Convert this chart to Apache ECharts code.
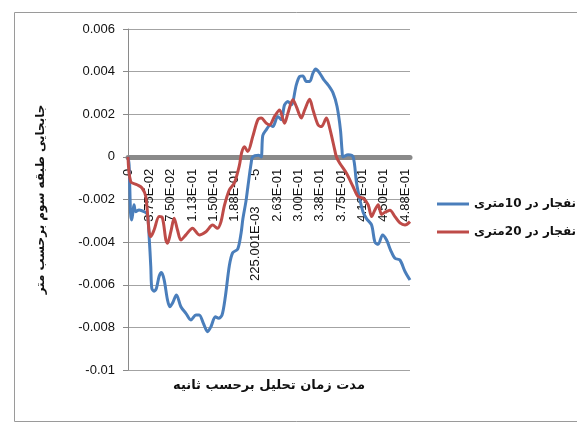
<!DOCTYPE html>
<html>
<head>
<meta charset="utf-8">
<script src="https://cdn.jsdelivr.net/npm/echarts@6/dist/echarts.min.js"></script>
<style>
html,body{margin:0;padding:0;background:#fff;}
#c{width:577px;height:424px;}
</style>
</head>
<body>
<div id="c"></div>
<script>
// ---- data ----
const seriesNames = ['انفجار در 10متری', 'انفجار در 20متری'];
const yAxisTitle = 'جابجایی طبقه سوم برحسب متر';
const xAxisTitle = 'مدت زمان تحلیل برحسب ثانیه';

const xTickLabels = ['0', '3.75E-02', '7.50E-02', '1.13E-01', '1.50E-01', '1.88E-01',
  '225.001E-03\u2003\u2003-5', '2.63E-01', '3.00E-01', '3.38E-01', '3.75E-01', '4.13E-01',
  '4.50E-01', '4.88E-01'];
const yTickLabels = ['-0.01', '-0.008', '-0.006', '-0.004', '-0.002', '0', '0.002', '0.004', '0.006'];

const blueT = [0, 0.0020, 0.0045, 0.0065, 0.0088, 0.0106, 0.0136, 0.0194, 0.0283, 0.0341,
  0.0371, 0.0401, 0.0419, 0.0459, 0.0500, 0.0548, 0.0588, 0.0636, 0.0694, 0.0736,
  0.0782, 0.0853, 0.0931, 0.1019, 0.1107, 0.1196, 0.1254, 0.1325, 0.1400, 0.1460,
  0.1537, 0.1595, 0.1655, 0.1713, 0.1784, 0.1842, 0.1930, 0.1990, 0.2022, 0.2075,
  0.2110, 0.2167, 0.2195, 0.2301, 0.2344, 0.2372, 0.2432, 0.2503, 0.2549, 0.2637,
  0.2697, 0.2755, 0.2814, 0.2874, 0.2962, 0.3020, 0.3078, 0.3138, 0.3197, 0.3255,
  0.3303, 0.3373, 0.3444, 0.3520, 0.3608, 0.3679, 0.3739, 0.3767, 0.3785, 0.3873,
  0.3962, 0.4021, 0.4080, 0.4138, 0.4198, 0.4287, 0.4345, 0.4403, 0.4480, 0.4551,
  0.4621, 0.4698, 0.4786, 0.4875, 0.4963];
const blueV = [0, -0.0004, -0.00264, -0.00296, -0.00257, -0.00225, -0.00257, -0.00249, -0.00257, -0.0027,
  -0.0037, -0.00515, -0.00617, -0.0063, -0.00617, -0.0056, -0.00543, -0.00577, -0.0067, -0.00703,
  -0.00687, -0.00648, -0.00703, -0.00734, -0.00765, -0.00742, -0.00742, -0.0078, -0.0082, -0.00797,
  -0.0075, -0.00757, -0.00742, -0.00656, -0.0051, -0.0045, -0.00433, -0.00358, -0.0029, -0.0021,
  -0.0014, -0.0003, 0, 0.00008, 0, 0.001, 0.00127, 0.0015, 0.00142, 0.0019,
  0.00174, 0.00244, 0.0026, 0.00244, 0.00338, 0.00377, 0.0038, 0.00354, 0.00354, 0.00393,
  0.00412, 0.00393, 0.00362, 0.00338, 0.003, 0.00236, 0.00127, 0.0003, 0, 0.0001,
  0, -0.0012, -0.002, -0.0026, -0.0029, -0.0032, -0.004, -0.0041, -0.00366, -0.0039,
  -0.00437, -0.00476, -0.00484, -0.00538, -0.00578];

const redT = [0, 0.0048, 0.0159, 0.0247, 0.0313, 0.0371, 0.0401, 0.0459, 0.0548, 0.0606,
  0.0666, 0.0694, 0.0754, 0.0812, 0.0871, 0.0931, 0.1019, 0.1136, 0.1254, 0.1372,
  0.1489, 0.1577, 0.1637, 0.1695, 0.1784, 0.1872, 0.1960, 0.2000, 0.2049, 0.2107,
  0.2195, 0.2284, 0.2344, 0.2432, 0.2490, 0.2579, 0.2667, 0.2755, 0.2814, 0.2903,
  0.2963, 0.3051, 0.3109, 0.3197, 0.3256, 0.3345, 0.3404, 0.3492, 0.3550, 0.3638,
  0.3668, 0.3727, 0.3845, 0.3962, 0.4050, 0.4138, 0.4227, 0.4287, 0.4345, 0.4403,
  0.4463, 0.4521, 0.4610, 0.4698, 0.4786, 0.4875, 0.4963];
const redV = [0, -0.00116, -0.00131, -0.00146, -0.00186, -0.0035, -0.00374, -0.00343, -0.0028, -0.00286,
  -0.0039, -0.00405, -0.00351, -0.00288, -0.00343, -0.0039, -0.00366, -0.00335, -0.00366, -0.00351,
  -0.0032, -0.00335, -0.00304, -0.0023, -0.00155, -0.00122, -0.0004, 0.0002, 0.00048, 0.00025,
  0.00095, 0.00174, 0.00182, 0.00158, 0.0015, 0.0019, 0.0022, 0.00158, 0.00205, 0.00268,
  0.00236, 0.00182, 0.0022, 0.0027, 0.0022, 0.0015, 0.00142, 0.00182, 0.00135, 0.00033,
  0, -0.0003, -0.00077, -0.0014, -0.00186, -0.00194, -0.00225, -0.0028, -0.00249, -0.00225,
  -0.0027, -0.0026, -0.0025, -0.0028, -0.0031, -0.0032, -0.00304];

// ---- chart ----
const X_STEP = 0.0375, Y_MIN = -0.01, Y_MAX = 0.006, Y_STEP = 0.002;
const GRID_TOP = 29, GRID_BOTTOM = 54, H = 424;
const pairs = (t, v) => t.map((x, i) => [x, v[i]]);
const chart = echarts.init(document.getElementById('c'), null, {renderer: 'canvas'});
const sans = 'Liberation Sans';
const arabic = 'DejaVu Sans';
// distance from the grid bottom up to the zero line, so the x axis sits on zero
const plotH = H - GRID_TOP - GRID_BOTTOM;
const zeroOffset = -plotH * (0 - Y_MIN) / (Y_MAX - Y_MIN);

chart.setOption({
  animation: false,
  backgroundColor: '#fff',
  grid: {left: 128, right: 167, top: GRID_TOP, bottom: GRID_BOTTOM, containLabel: false, outerBoundsMode: 'none'},
  graphic: [
    {type: 'rect', z: -10, silent: true,
     shape: {x: 14.5, y: 12.5, width: 620, height: 409},
     style: {fill: 'none', stroke: '#9a9a9a', lineWidth: 1}},
    {type: 'text', x: 269, y: 386, silent: true,
     style: {text: xAxisTitle, font: 'bold 13px "DejaVu Sans"', fill: '#111',
             textAlign: 'center', textVerticalAlign: 'middle'}}
  ],
  legend: {
    orient: 'vertical', left: 432, top: 193, itemWidth: 32, itemHeight: 3, itemGap: 16,
    icon: 'rect',
    data: seriesNames.map(n => ({name: n})),
    textStyle: {fontFamily: arabic, fontWeight: 'bold', fontSize: 12, color: '#111'},
    itemStyle: {borderWidth: 0}
  },
  xAxis: {
    type: 'value', min: 0, max: 0.4963, interval: X_STEP,
    offset: zeroOffset,
    axisLine: {onZero: false, lineStyle: {color: '#8a8a8a', width: 5}},
    axisTick: {show: false},
    splitLine: {show: false},
    axisLabel: {
      rotate: 90, margin: 12, fontFamily: sans, fontSize: 13, color: '#111',
      showMaxLabel: false,
      formatter: v => {
        const i = Math.round(v / X_STEP);
        return Math.abs(v - i * X_STEP) < 1e-6 && xTickLabels[i] !== undefined ? xTickLabels[i] : '';
      }
    }
  },
  yAxis: {
    type: 'value', min: Y_MIN, max: Y_MAX, interval: Y_STEP,
    name: yAxisTitle, nameLocation: 'middle', nameGap: 81,
    nameTextStyle: {fontFamily: arabic, fontWeight: 'bold', fontSize: 12, color: '#111'},
    axisLine: {show: true, lineStyle: {color: '#8a8a8a', width: 1}},
    axisTick: {show: true, length: 5, lineStyle: {color: '#8a8a8a'}},
    splitLine: {show: true, lineStyle: {color: '#a3a3a3', width: 1}},
    axisLabel: {
      margin: 13, fontFamily: sans, fontSize: 13, color: '#111',
      formatter: v => yTickLabels[Math.round((v - Y_MIN) / Y_STEP)]
    }
  },
  series: [
    {name: seriesNames[0], type: 'line', data: pairs(blueT, blueV), smooth: 0.3,
     symbol: 'none', lineStyle: {color: '#4a7ebb', width: 3}, itemStyle: {color: '#4a7ebb'}},
    {name: seriesNames[1], type: 'line', data: pairs(redT, redV), smooth: 0.3,
     symbol: 'none', lineStyle: {color: '#be4b48', width: 3}, itemStyle: {color: '#be4b48'}}
  ]
});
</script>
</body>
</html>
